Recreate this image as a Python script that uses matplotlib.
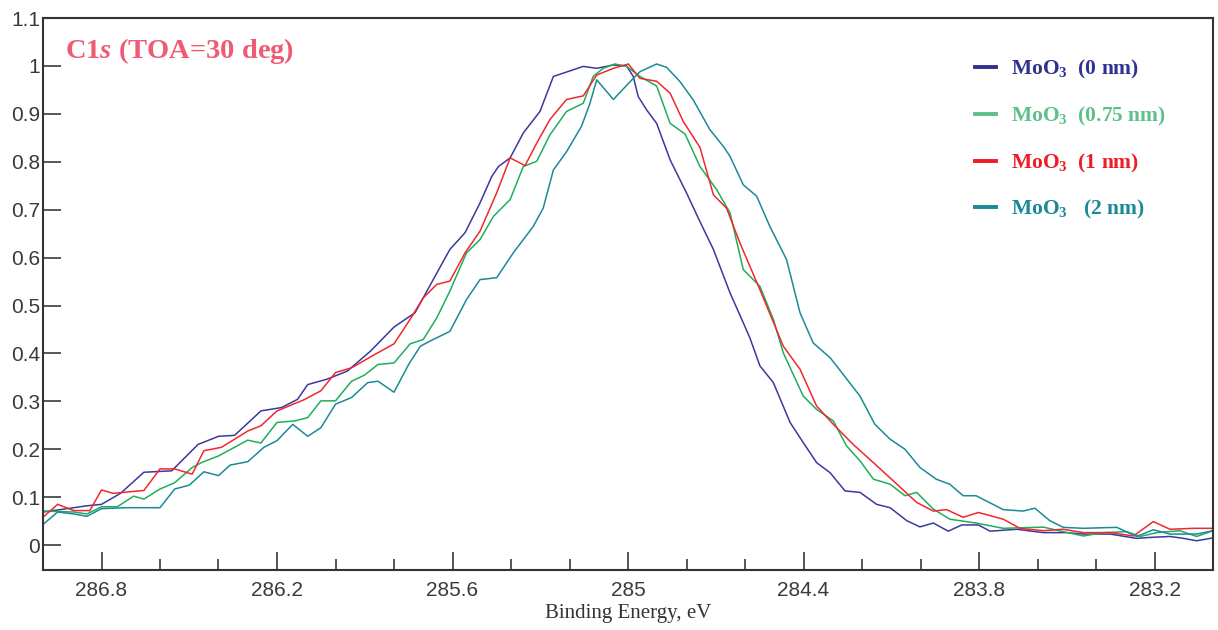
import numpy as np
import matplotlib
matplotlib.use("Agg")
import matplotlib.pyplot as plt
from matplotlib.ticker import MultipleLocator, FixedLocator, FuncFormatter

# C1s spectra, binding energy (eV) vs normalised intensity
e_0nm = [287.0, 286.895, 286.85, 286.8, 286.735, 286.655, 286.56, 286.47, 286.4, 286.345,
         286.255, 286.185, 286.13, 286.095, 286.03, 285.96, 285.88, 285.8, 285.728, 285.666,
         285.609, 285.557, 285.506, 285.466, 285.443, 285.403, 285.358, 285.301, 285.255, 285.221,
         285.153, 285.107, 285.05, 285.005, 284.982, 284.965, 284.936, 284.902, 284.856, 284.8,
         284.754, 284.708, 284.651, 284.611, 284.583, 284.549, 284.503, 284.446, 284.401, 284.355,
         284.309, 284.258, 284.207, 284.15, 284.104, 284.047, 284.002, 283.956, 283.905, 283.859,
         283.802, 283.762, 283.671, 283.58, 283.5, 283.443, 283.352, 283.261, 283.215, 283.147,
         283.101, 283.056, 283.0]
i_0nm = [0.069, 0.078, 0.082, 0.085, 0.108, 0.152, 0.155, 0.21, 0.227, 0.229,
         0.28, 0.287, 0.304, 0.335, 0.346, 0.363, 0.405, 0.455, 0.485, 0.554,
         0.617, 0.652, 0.714, 0.769, 0.79, 0.808, 0.86, 0.905, 0.978, 0.985,
         0.999, 0.995, 1.002, 1.0, 0.978, 0.936, 0.908, 0.88, 0.804, 0.735,
         0.675, 0.617, 0.526, 0.471, 0.432, 0.374, 0.339, 0.256, 0.214, 0.172,
         0.151, 0.113, 0.11, 0.085, 0.078, 0.051, 0.038, 0.046, 0.029, 0.042,
         0.042, 0.029, 0.033, 0.026, 0.026, 0.023, 0.023, 0.014, 0.016, 0.018,
         0.014, 0.009, 0.015]

e_075nm = [287.0, 286.895, 286.85, 286.8, 286.746, 286.69, 286.655, 286.6, 286.55, 286.49,
           286.455, 286.4, 286.3, 286.255, 286.2, 286.14, 286.095, 286.05, 286.0, 285.945,
           285.9, 285.855, 285.8, 285.745, 285.7, 285.654, 285.609, 285.552, 285.506, 285.46,
           285.403, 285.358, 285.312, 285.267, 285.21, 285.153, 285.119, 285.085, 285.045, 285.005,
           284.959, 284.902, 284.856, 284.805, 284.754, 284.697, 284.651, 284.606, 284.549, 284.503,
           284.469, 284.401, 284.355, 284.298, 284.253, 284.207, 284.161, 284.104, 284.053, 284.013,
           283.956, 283.9, 283.81, 283.717, 283.58, 283.512, 283.443, 283.375, 283.295, 283.249,
           283.192, 283.113, 283.056, 283.0]
i_075nm = [0.071, 0.069, 0.065, 0.08, 0.08, 0.102, 0.096, 0.117, 0.13, 0.162,
           0.173, 0.186, 0.219, 0.213, 0.256, 0.259, 0.266, 0.301, 0.301, 0.342,
           0.355, 0.377, 0.38, 0.42, 0.429, 0.474, 0.53, 0.61, 0.6375, 0.686,
           0.721, 0.79, 0.801, 0.856, 0.905, 0.922, 0.978, 0.995, 1.004, 0.999,
           0.978, 0.958, 0.88, 0.858, 0.79, 0.742, 0.693, 0.575, 0.54, 0.471,
           0.401, 0.311, 0.283, 0.259, 0.207, 0.176, 0.1375, 0.127, 0.103, 0.11,
           0.075, 0.054, 0.046, 0.035, 0.0375, 0.028, 0.019, 0.026, 0.028, 0.018,
           0.026, 0.03, 0.018, 0.03]

e_1nm = [287.0, 286.95, 286.895, 286.84, 286.8, 286.76, 286.655, 286.6, 286.55, 286.49,
         286.45, 286.39, 286.3, 286.255, 286.2, 286.105, 286.05, 286.0, 285.945, 285.865,
         285.8, 285.745, 285.7, 285.654, 285.609, 285.557, 285.506, 285.449, 285.403, 285.352,
         285.312, 285.267, 285.21, 285.153, 285.107, 285.05, 284.999, 284.959, 284.902, 284.856,
         284.811, 284.754, 284.708, 284.663, 284.617, 284.549, 284.469, 284.412, 284.355, 284.298,
         284.23, 284.161, 284.093, 284.013, 283.956, 283.911, 283.854, 283.802, 283.717, 283.66,
         283.58, 283.512, 283.443, 283.352, 283.272, 283.204, 283.147, 283.067, 283.0]
i_1nm = [0.058, 0.085, 0.072, 0.072, 0.115, 0.108, 0.114, 0.159, 0.159, 0.148,
         0.197, 0.204, 0.238, 0.249, 0.28, 0.304, 0.322, 0.36, 0.37, 0.398,
         0.42, 0.471, 0.516, 0.544, 0.551, 0.61, 0.655, 0.735, 0.808, 0.792,
         0.839, 0.888, 0.93, 0.9375, 0.981, 0.995, 1.004, 0.974, 0.968, 0.943,
         0.884, 0.83, 0.731, 0.703, 0.63, 0.533, 0.415, 0.367, 0.29, 0.252,
         0.21, 0.172, 0.134, 0.089, 0.071, 0.074, 0.058, 0.068, 0.054, 0.035,
         0.03, 0.033, 0.026, 0.026, 0.019, 0.049, 0.033, 0.035, 0.035]

e_2nm = [287.0, 286.95, 286.895, 286.85, 286.8, 286.72, 286.6, 286.55, 286.5, 286.45,
         286.4, 286.36, 286.3, 286.245, 286.2, 286.146, 286.095, 286.05, 286.0, 285.945,
         285.89, 285.855, 285.8, 285.75, 285.71, 285.666, 285.609, 285.552, 285.506, 285.449,
         285.392, 285.324, 285.29, 285.255, 285.21, 285.159, 285.13, 285.107, 285.05, 284.993,
         284.959, 284.902, 284.868, 284.822, 284.777, 284.72, 284.674, 284.651, 284.606, 284.56,
         284.515, 284.458, 284.412, 284.367, 284.309, 284.287, 284.207, 284.156, 284.104, 284.053,
         284.002, 283.946, 283.9, 283.854, 283.81, 283.717, 283.649, 283.609, 283.558, 283.512,
         283.443, 283.329, 283.261, 283.204, 283.147, 283.056, 283.0]
i_2nm = [0.043, 0.069, 0.065, 0.06, 0.076, 0.078, 0.078, 0.117, 0.125, 0.153,
         0.145, 0.167, 0.174, 0.204, 0.218, 0.252, 0.227, 0.245, 0.294, 0.308,
         0.339, 0.342, 0.319, 0.377, 0.415, 0.429, 0.446, 0.5125, 0.554, 0.558,
         0.61, 0.665, 0.703, 0.783, 0.821, 0.874, 0.922, 0.971, 0.93, 0.967,
         0.988, 1.004, 0.997, 0.967, 0.929, 0.867, 0.832, 0.811, 0.752, 0.728,
         0.665, 0.596, 0.485, 0.422, 0.391, 0.374, 0.311, 0.252, 0.221, 0.2,
         0.162, 0.1375, 0.127, 0.103, 0.103, 0.074, 0.071, 0.077, 0.051, 0.037,
         0.035, 0.037, 0.018, 0.032, 0.023, 0.023, 0.03]

labels = ['MoO$_3$  (0 nm)', 'MoO$_3$  (0.75 nm)', 'MoO$_3$  (1 nm)', 'MoO$_3$   (2 nm)']
line_colors = ['#3a3a9c', '#1fae5b', '#f0282d', '#1a8a98']
text_colors = ['#2e3192', '#5cc08a', '#ee1c25', '#178a96']
x_major = [286.8, 286.2, 285.6, 285.0, 284.4, 283.8, 283.2]

plt.rcParams['font.family'] = ['Liberation Sans', 'DejaVu Sans']
plt.rcParams['mathtext.fontset'] = 'custom'
plt.rcParams['mathtext.rm'] = 'Liberation Serif:bold'
plt.rcParams['mathtext.it'] = 'Liberation Serif:bold:italic'
plt.rcParams['mathtext.bf'] = 'Liberation Serif:bold'

fig = plt.figure(figsize=(12.18, 6.30), dpi=100)
ax = fig.add_axes([43 / 1218, 60 / 630, 1170 / 1218, 552 / 630])

series = [(e_0nm, i_0nm), (e_075nm, i_075nm), (e_1nm, i_1nm), (e_2nm, i_2nm)]
for (e, i), lab, c in zip(series, labels, line_colors):
    ax.plot(e, i, color=c, lw=1.1, label=lab)

ax.set_xlim(287.0, 283.0)
ax.set_ylim(-0.052, 1.1)

ax.xaxis.set_major_locator(FixedLocator(x_major))
ax.xaxis.set_minor_locator(MultipleLocator(0.2))
ax.yaxis.set_major_locator(MultipleLocator(0.1))
ax.xaxis.set_major_formatter(FuncFormatter(lambda v, p: f'{v:g}'))
ax.yaxis.set_major_formatter(FuncFormatter(lambda v, p: f'{round(v, 2):g}'))

ax.tick_params(axis='x', which='major', direction='in', length=13, width=1.2,
               pad=8, labelsize=15, colors='#3a3a3a')
ax.tick_params(axis='x', which='minor', direction='in', length=8, width=1.2, colors='#3a3a3a')
ax.tick_params(axis='y', which='major', direction='in', length=13, width=1.2,
               pad=2, labelsize=15, colors='#3a3a3a')
for s in ax.spines.values():
    s.set_linewidth(1.5)
    s.set_color('#333333')

ax.set_xlabel('Binding Energy, eV', family='Liberation Serif', fontsize=15,
              color='#333333', labelpad=3)

ax.text(0.019, 0.94, r'C1$\mathit{s}$ (TOA=30 deg)', transform=ax.transAxes,
        family='Liberation Serif', weight='bold', fontsize=20.5, color='#ef5b73',
        va='center', ha='left')

leg = ax.legend(loc='upper left', bbox_to_anchor=(0.7966, 0.927), frameon=False,
                borderpad=0, borderaxespad=0, handlelength=0.96, handletextpad=0.72,
                labelspacing=1.1,
                prop={'family': 'Liberation Serif', 'weight': 'bold', 'size': 15.5})
for h, t, c in zip(leg.get_lines(), leg.get_texts(), text_colors):
    h.set_color(c)
    h.set_linewidth(2.8)
    t.set_color(c)

fig.savefig('out.png', dpi=100, facecolor='white')
